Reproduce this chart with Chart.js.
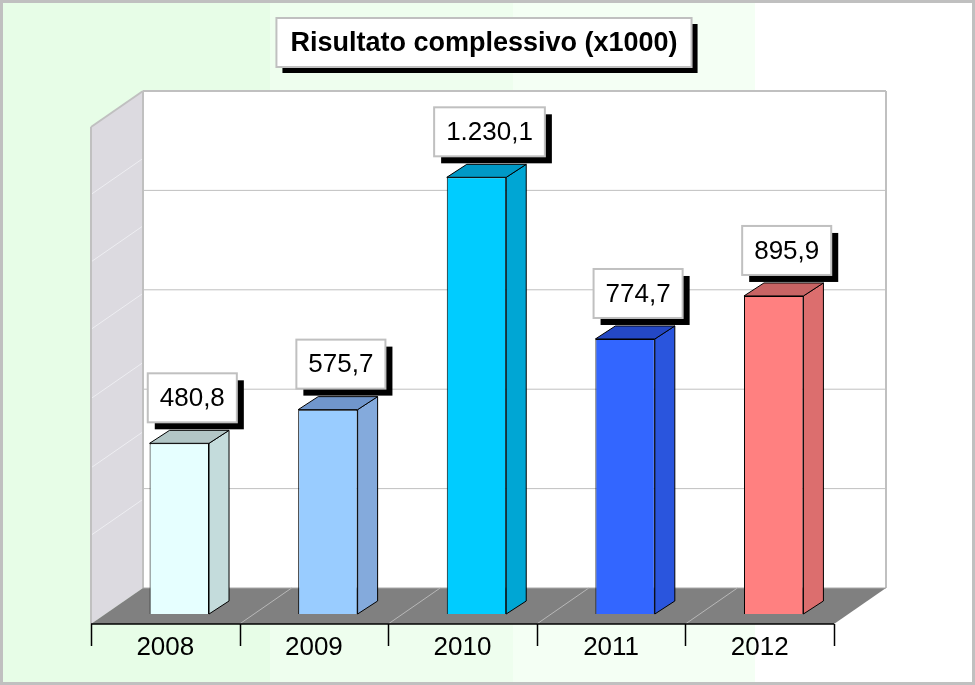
<!DOCTYPE html>
<html>
<head>
<meta charset="utf-8">
<script src="https://cdn.jsdelivr.net/npm/chart.js@4/dist/chart.umd.min.js"></script>
<style>
  html, body { margin: 0; padding: 0; background: #fff; }
  canvas { display: block; }
</style>
</head>
<body>
<canvas id="myChart" width="975" height="685"></canvas>
<script>
const categories = ['2008', '2009', '2010', '2011', '2012'];
const values = [480.8, 575.7, 1230.1, 774.7, 895.9];
const frontColors = ['#e6ffff', '#99ccff', '#00ccff', '#3366ff', '#ff8080'];
const sideColors = ['#c4dcdc', '#84aadc', '#00a6d4', '#2a55dd', '#dc6e6e'];
const topColors = ['#b2c6c6', '#7096cc', '#0099c6', '#2448c4', '#c86464'];
const backGrid = [280, 560, 840, 1120];
const sideGrid = [250, 440, 635, 830, 1020, 1210];
const yMax = 1400;
const title = 'Risultato complessivo (x1000)';

// offsets of the 3d box: front edge of floor and full depth
const F = {x: -14, y: 10};
const D = {x: 52, y: -36};
const bar3d = {x: 20, y: 13};

function fmt(v) {
	const parts = v.toFixed(1).split('.');
	return parts[0].replace(/\B(?=(\d{3})+(?!\d))/g, '.') + ',' + parts[1];
}

function poly(ctx, pts, fill, stroke, lw) {
	ctx.beginPath();
	ctx.moveTo(pts[0][0], pts[0][1]);
	for (let i = 1; i < pts.length; i++) ctx.lineTo(pts[i][0], pts[i][1]);
	ctx.closePath();
	if (fill) { ctx.fillStyle = fill; ctx.fill(); }
	if (stroke) { ctx.strokeStyle = stroke; ctx.lineWidth = lw || 1; ctx.stroke(); }
}

function line(ctx, x1, y1, x2, y2, color, lw) {
	ctx.beginPath();
	ctx.moveTo(x1, y1);
	ctx.lineTo(x2, y2);
	ctx.strokeStyle = color;
	ctx.lineWidth = lw || 1;
	ctx.stroke();
}

const scene3d = {
	id: 'scene3d',
	beforeDraw(chart) {
		const ctx = chart.ctx;
		const stripes = [[0, 270, '#e7fde7'], [270, 513, '#eefeee'], [513, 755, '#f4fff4'], [755, 975, '#ffffff']];
		ctx.save();
		stripes.forEach(s => { ctx.fillStyle = s[2]; ctx.fillRect(s[0], 0, s[1] - s[0], chart.height); });
		ctx.restore();
	},
	beforeDatasetsDraw(chart) {
		const ctx = chart.ctx;
		const a = chart.chartArea;
		const ys = chart.scales.y;
		const xs = chart.scales.x;
		const fl = a.left + F.x, fr = a.right + F.x, fb = a.bottom + F.y;
		const ft = ys.getPixelForValue(yMax) + F.y;
		const bl = fl + D.x, br = fr + D.x, bb = fb + D.y, bt = ft + D.y;
		ctx.save();
		// back wall
		poly(ctx, [[bl, bt], [br, bt], [br, bb], [bl, bb]], '#ffffff', null);
		backGrid.forEach(v => {
			const y = ys.getPixelForValue(v) + F.y + D.y;
			line(ctx, bl, y, br, y, '#c0c0c0', 1);
		});
		line(ctx, bl, bt, br, bt, '#c0c0c0', 2);
		line(ctx, br, bt, br, bb, '#c0c0c0', 2);
		// left wall
		poly(ctx, [[fl, ft], [bl, bt], [bl, bb], [fl, fb]], '#dcdae0', null);
		sideGrid.forEach(v => {
			const y = ys.getPixelForValue(v) + F.y;
			line(ctx, fl, y, bl, y + D.y, '#eeeef2', 1);
		});
		line(ctx, fl, ft, bl, bt, '#c0c0c0', 2);
		line(ctx, fl, ft, fl, fb, '#c0c0c0', 2);
		line(ctx, bl, bt, bl, bb, '#c0c0c0', 2);
		// floor
		poly(ctx, [[fl, fb], [fr, fb], [br, bb], [bl, bb]], '#808080', null);
		for (let i = 1; i < categories.length; i++) {
			const x = (xs.getPixelForValue(i - 1) + xs.getPixelForValue(i)) / 2 + F.x;
			line(ctx, x, fb, x + D.x, bb, '#b8b8b8', 1);
		}
		line(ctx, bl, bb, br, bb, '#a8a8a8', 1);
		ctx.restore();
	},
	afterDatasetsDraw(chart) {
		const ctx = chart.ctx;
		const a = chart.chartArea;
		const xs = chart.scales.x;
		const meta = chart.getDatasetMeta(0);
		ctx.save();
		meta.data.forEach((bar, i) => {
			const p = bar.getProps(['x', 'y', 'base', 'width'], true);
			const l = p.x - p.width / 2, r = p.x + p.width / 2;
			const t = p.y, b = p.base;
			poly(ctx, [[r, t], [r + bar3d.x, t - bar3d.y], [r + bar3d.x, b - bar3d.y], [r, b]], sideColors[i], '#000', 1);
			poly(ctx, [[l, t], [l + bar3d.x, t - bar3d.y], [r + bar3d.x, t - bar3d.y], [r, t]], topColors[i], '#000', 1);

			// value label box
			const txt = fmt(values[i]);
			ctx.font = '26px "Liberation Sans", Arial, sans-serif';
			const w = ctx.measureText(txt).width + 24;
			const h = 49;
			const cx = p.x + 13;
			const by = t - bar3d.y - 8;
			const bx = cx - w / 2;
			ctx.fillStyle = '#000';
			ctx.fillRect(bx + 7, by - h + 7, w, h);
			ctx.fillStyle = '#fff';
			ctx.fillRect(bx, by - h, w, h);
			ctx.strokeStyle = '#c0c0c0';
			ctx.lineWidth = 2;
			ctx.strokeRect(bx, by - h, w, h);
			ctx.fillStyle = '#000';
			ctx.textAlign = 'center';
			ctx.textBaseline = 'middle';
			ctx.fillText(txt, cx, by - h / 2 + 1);
		});

		// category axis at the front edge of the floor
		const fl = a.left + F.x, fr = a.right + F.x, fb = a.bottom + F.y;
		line(ctx, fl, fb, fr, fb, '#000', 1.5);
		const step = (fr - fl) / categories.length;
		for (let i = 0; i <= categories.length; i++) {
			const x = Math.round(fl + step * i) + 0.5;
			line(ctx, x, fb, x, fb + 22, '#000', 1.5);
		}
		ctx.font = '26px "Liberation Sans", Arial, sans-serif';
		ctx.fillStyle = '#000';
		ctx.textAlign = 'center';
		ctx.textBaseline = 'middle';
		categories.forEach((c, i) => {
			ctx.fillText(c, xs.getPixelForValue(i) + F.x, fb + 24);
		});

		// title box
		ctx.font = 'bold 27px "Liberation Sans", Arial, sans-serif';
		const tw = ctx.measureText(title).width + 28;
		const th = 49;
		const tx = 484 - tw / 2, ty = 18;
		ctx.fillStyle = '#000';
		ctx.fillRect(tx + 6, ty + 6, tw, th);
		ctx.fillStyle = '#fff';
		ctx.fillRect(tx, ty, tw, th);
		ctx.strokeStyle = '#c0c0c0';
		ctx.lineWidth = 2;
		ctx.strokeRect(tx, ty, tw, th);
		ctx.fillStyle = '#000';
		ctx.fillText(title, 484, ty + th / 2 + 1);

		// outer frame
		ctx.strokeStyle = '#c0c0c0';
		ctx.lineWidth = 3;
		ctx.strokeRect(1.5, 1.5, chart.width - 3, chart.height - 3);
		ctx.restore();
	}
};

const ctx = document.getElementById('myChart');

const myChart = new Chart(ctx, {
	type: 'bar',
	data: {
		labels: categories,
		datasets: [{
			label: '',
			data: values,
			backgroundColor: frontColors,
			borderColor: '#000',
			borderWidth: 1,
			barPercentage: 0.4,
			categoryPercentage: 1
		}]
	},
	options: {
		responsive: false,
		animation: false,
		devicePixelRatio: 1,
		layout: {
			padding: {left: 105, right: 127, top: 117, bottom: 71}
		},
		scales: {
			x: { display: false },
			y: { display: false, min: 0, max: yMax }
		},
		plugins: {
			legend: { display: false },
			tooltip: { enabled: false }
		}
	},
	plugins: [scene3d]
});
</script>
</body>
</html>
